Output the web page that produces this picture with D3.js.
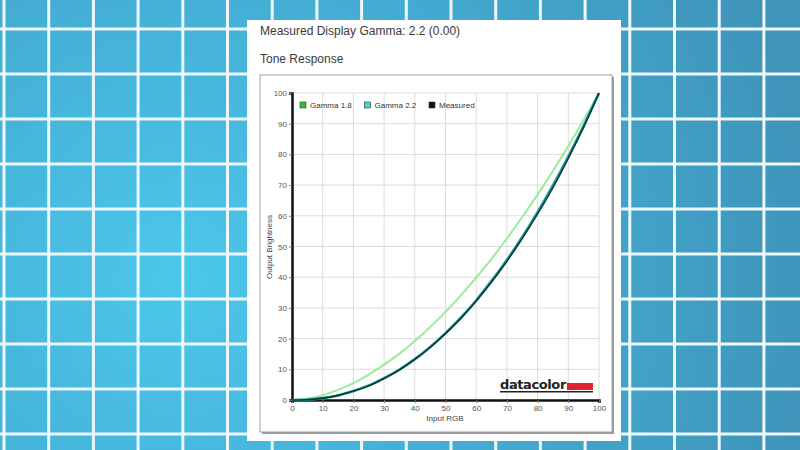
<!DOCTYPE html>
<html>
<head>
<meta charset="utf-8">
<script src="https://cdn.jsdelivr.net/npm/d3@7"></script>
<style>
  html, body { margin: 0; padding: 0; background: #fff; }
  svg { display: block; font-family: "Liberation Sans", Arial, sans-serif; }
</style>
</head>
<body>
<div id="chart"></div>
<script>
// input levels and the three tone response curves
var inputRGB = [0, 5, 10, 15, 20, 25, 30, 35, 40, 45, 50, 55, 60, 65, 70, 75, 80, 85, 90, 95, 100];
var gamma18 = [0, 0.5, 1.6, 3.3, 5.5, 8.3, 11.5, 15.1, 19.2, 23.8, 28.7, 34.1, 39.9, 46.0, 52.6, 59.6, 66.9, 74.6, 82.7, 91.2, 100];
var gamma22 = [0, 0.1, 0.6, 1.5, 2.9, 4.7, 7.1, 9.9, 13.3, 17.3, 21.8, 26.8, 32.5, 38.8, 45.6, 53.1, 61.2, 69.9, 79.3, 89.3, 100];
var measured = [0, 0.1, 0.6, 1.5, 2.9, 4.6, 7.0, 9.8, 13.2, 17.1, 21.6, 26.6, 32.2, 38.4, 45.2, 52.6, 60.6, 69.2, 78.7, 88.9, 100];
var tickValues = [0, 10, 20, 30, 40, 50, 60, 70, 80, 90, 100];
var legendNames = ["Gamma 1.8", "Gamma 2.2", "Measured"];
var legendColors = ["#2fc42f", "#3fd6d6", "#111111"];

var W = 800, H = 450;
var svg = d3.select("#chart").append("svg").attr("width", W).attr("height", H);

// blue tiled backdrop
var defs = svg.append("defs");
var grad = defs.append("radialGradient").attr("id", "bg")
  .attr("gradientUnits", "userSpaceOnUse")
  .attr("cx", 180).attr("cy", 280).attr("r", 640);
grad.append("stop").attr("offset", "0%").attr("stop-color", "#4bc8ea");
grad.append("stop").attr("offset", "45%").attr("stop-color", "#45afd6");
grad.append("stop").attr("offset", "100%").attr("stop-color", "#3f94ba");
svg.append("rect").attr("width", W).attr("height", H).attr("fill", "url(#bg)");

var vLines = d3.range(0, 19).map(function (i) { return 4 + i * 44.7; });
var hLines = d3.range(0, 10).map(function (i) { return 29 + i * 45; });
svg.selectAll(".vl").data(vLines).enter().append("line")
  .attr("x1", function (d) { return d; }).attr("x2", function (d) { return d; })
  .attr("y1", 0).attr("y2", H)
  .attr("stroke", "#eef8fb").attr("stroke-width", 3);
svg.selectAll(".hl").data(hLines).enter().append("line")
  .attr("y1", function (d) { return d; }).attr("y2", function (d) { return d; })
  .attr("x1", 0).attr("x2", W)
  .attr("stroke", "#eef8fb").attr("stroke-width", 3);

// white report panel
svg.append("rect").attr("x", 247).attr("y", 20).attr("width", 374).attr("height", 421).attr("fill", "#fff");

svg.append("text").attr("x", 260).attr("y", 35)
  .style("font-size", "12px").style("fill", "#3a3a3a")
  .text("Measured Display Gamma: 2.2 (0.00)");
svg.append("text").attr("x", 260).attr("y", 63)
  .style("font-size", "12px").style("fill", "#3a3a3a")
  .text("Tone Response");

// chart frame with a soft shadow
svg.append("rect").attr("x", 262).attr("y", 77).attr("width", 352).attr("height", 357).attr("fill", "#9a9a9a");
svg.append("rect").attr("x", 260).attr("y", 75).attr("width", 352).attr("height", 357)
  .attr("fill", "#fff").attr("stroke", "#a0a0a0").attr("stroke-width", 1);

var x = d3.scaleLinear().domain([0, 100]).range([292, 599]);
var y = d3.scaleLinear().domain([0, 100]).range([400, 93]);

// gridlines
var g = svg.append("g");
g.selectAll(".gx").data(tickValues.slice(1)).enter().append("line")
  .attr("x1", function (d) { return x(d); }).attr("x2", function (d) { return x(d); })
  .attr("y1", y(0)).attr("y2", y(100))
  .attr("stroke", "#dcdcdc").attr("stroke-width", 1);
g.selectAll(".gy").data(tickValues.slice(1)).enter().append("line")
  .attr("y1", function (d) { return y(d); }).attr("y2", function (d) { return y(d); })
  .attr("x1", x(0)).attr("x2", x(100))
  .attr("stroke", "#dcdcdc").attr("stroke-width", 1);

// axes
var xAxis = svg.append("g").attr("transform", "translate(0," + y(0) + ")")
  .call(d3.axisBottom(x).tickValues(tickValues).tickSize(3).tickPadding(2));
var yAxis = svg.append("g").attr("transform", "translate(" + x(0) + ",0)")
  .call(d3.axisLeft(y).tickValues(tickValues).tickSize(3).tickPadding(2));
[xAxis, yAxis].forEach(function (a) {
  a.select(".domain").attr("stroke", "#111").attr("stroke-width", 2.5);
  a.selectAll(".tick line").attr("stroke", "#777");
  a.selectAll("text").style("font-size", "8px").style("fill", "#555")
    .style("font-family", "\"Liberation Sans\", Arial, sans-serif");
});

svg.append("text").attr("x", 445).attr("y", 421).attr("text-anchor", "middle")
  .style("font-size", "8px").style("fill", "#444").text("Input RGB");
svg.append("text").attr("transform", "translate(272,247) rotate(-90)").attr("text-anchor", "middle")
  .style("font-size", "8px").style("fill", "#444").text("Output Brightness");

// curves
var line = d3.line().curve(d3.curveMonotoneX)
  .x(function (d) { return x(d[0]); })
  .y(function (d) { return y(d[1]); });
function pairs(vals) { return inputRGB.map(function (v, i) { return [v, vals[i]]; }); }

svg.append("path").datum(pairs(gamma18)).attr("d", line)
  .attr("fill", "none").attr("stroke", "#9aeb9a").attr("stroke-width", 2);
svg.append("path").datum(pairs(gamma22)).attr("d", line)
  .attr("fill", "none").attr("stroke", "#1f9a9a").attr("stroke-width", 2.6);
svg.append("path").datum(pairs(measured)).attr("d", line)
  .attr("fill", "none").attr("stroke", "#062a2a").attr("stroke-width", 1.6).attr("opacity", 0.85);

// legend
var leg = svg.selectAll(".leg").data(legendNames).enter().append("g")
  .attr("transform", function (d, i) { return "translate(" + (300 + i * 64.5) + ",102)"; });
leg.append("rect").attr("width", 6).attr("height", 6)
  .attr("fill", function (d, i) { return legendColors[i]; })
  .attr("stroke", "#333").attr("stroke-width", 0.6);
leg.append("text").attr("x", 10).attr("y", 6)
  .style("font-size", "8px").style("fill", "#333").text(function (d) { return d; });

// datacolor mark
svg.append("text").attr("x", 500).attr("y", 389)
  .style("font-size", "13px").style("font-weight", "bold").style("fill", "#222")
  .style("font-family", "\"DejaVu Sans\", sans-serif").style("letter-spacing", "-0.4px")
  .text("datacolor");
svg.append("rect").attr("x", 567).attr("y", 383).attr("width", 26).attr("height", 7).attr("fill", "#e0242e");
svg.append("rect").attr("x", 500).attr("y", 391).attr("width", 93).attr("height", 1.5).attr("fill", "#222");
</script>
</body>
</html>
